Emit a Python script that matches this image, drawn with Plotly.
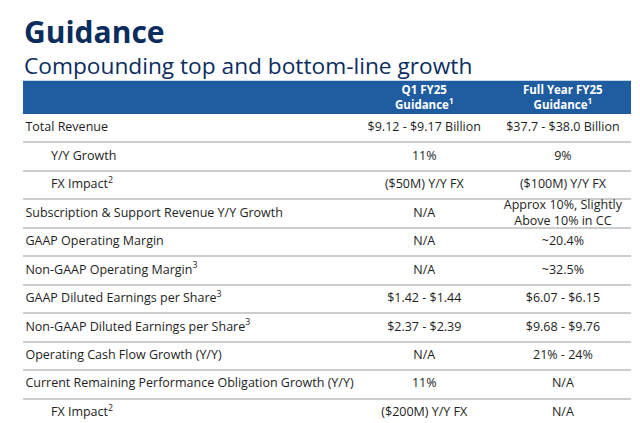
import plotly.graph_objects as go

# ---- data ----
title_text = "Guidance"
subtitle_text = "Compounding top and bottom-line growth"
col_headers = ["Q1 FY25<br>Guidance<sup>1</sup>", "Full Year FY25<br>Guidance<sup>1</sup>"]
row_labels = [
    "Total Revenue",
    "Y/Y Growth",
    "FX Impact<sup>2</sup>",
    "Subscription & Support Revenue Y/Y Growth",
    "GAAP Operating Margin",
    "Non-GAAP Operating Margin<sup>3</sup>",
    "GAAP Diluted Earnings per Share<sup>3</sup>",
    "Non-GAAP Diluted Earnings per Share<sup>3</sup>",
    "Operating Cash Flow Growth (Y/Y)",
    "Current Remaining Performance Obligation Growth (Y/Y)",
    "FX Impact<sup>2</sup>",
]
row_indent = [0, 1, 1, 0, 0, 0, 0, 0, 0, 0, 1]
q1_fy25 = [
    "$9.12 - $9.17 Billion", "11%", "($50M) Y/Y FX", "N/A", "N/A", "N/A",
    "$1.42 - $1.44", "$2.37 - $2.39", "N/A", "11%", "($200M) Y/Y FX",
]
full_year_fy25 = [
    "$37.7 - $38.0 Billion", "9%", "($100M) Y/Y FX",
    "Approx 10%, Slightly<br>Above 10% in CC", "~20.4%", "~32.5%",
    "$6.07 - $6.15", "$9.68 - $9.76", "21% - 24%", "N/A", "N/A",
]

# ---- layout constants ----
W, H = 640, 423
M_L, M_R, M_T, M_B = 15, 17, 106, 4
PLOT_H = H - M_T - M_B
LABEL_X = 0.004
INDENT = 0.042
COL_X = [0.660, 0.888]
FONT = "Open Sans"
NAVY = "#0B2D5E"
TEXT = "#1e1e1e"
BAND = "#1F5CA0"
GRID = "#CDCDCD"

def py(px):
    return (H - M_B - px) / PLOT_H

n = len(row_labels)
ys = [i + 0.5 for i in range(n)]

fig = go.Figure()
fig.add_trace(go.Scatter(
    x=[LABEL_X + INDENT * k for k in row_indent], y=ys, text=row_labels,
    mode="text", textposition="middle right",
    textfont=dict(family=FONT, size=12.5, color=TEXT), hoverinfo="skip", showlegend=False,
))
for cx, vals in zip(COL_X, [q1_fy25, full_year_fy25]):
    fig.add_trace(go.Scatter(
        x=[cx] * n, y=ys, text=vals, mode="text", textposition="middle center",
        textfont=dict(family=FONT, size=12.5, color=TEXT), hoverinfo="skip", showlegend=False,
    ))

fig.add_shape(type="rect", xref="paper", yref="paper", x0=0, x1=1, y0=1.0, y1=py(72.7),
              fillcolor=BAND, line=dict(width=0), layer="below")

annotations = [
    dict(text="<b>" + title_text + "</b>", xref="paper", yref="paper", x=0, y=py(23),
         xanchor="left", yanchor="middle", showarrow=False, xshift=-1,
         font=dict(family=FONT, size=30, color=NAVY)),
    dict(text=subtitle_text, xref="paper", yref="paper", x=0, y=py(57),
         xanchor="left", yanchor="middle", showarrow=False, xshift=-1,
         font=dict(family=FONT, size=22.7, color=NAVY)),
]
for cx, h in zip(COL_X, col_headers):
    annotations.append(dict(text="<b>" + h + "</b>", xref="x", yref="paper", x=cx, y=py(89),
                            xanchor="center", yanchor="middle", showarrow=False,
                            font=dict(family=FONT, size=11.5, color="white")))

fig.update_layout(
    width=W, height=H, margin=dict(l=M_L, r=M_R, t=M_T, b=M_B),
    paper_bgcolor="white", plot_bgcolor="white",
    annotations=annotations,
    xaxis=dict(range=[0, 1], visible=False, fixedrange=True),
    yaxis=dict(range=[n, 0], tickvals=list(range(1, n + 1)), showticklabels=False,
               showgrid=True, gridcolor=GRID, gridwidth=2, zeroline=False,
               showline=False, ticks="", fixedrange=True),
)
fig.write_html("out.html")
